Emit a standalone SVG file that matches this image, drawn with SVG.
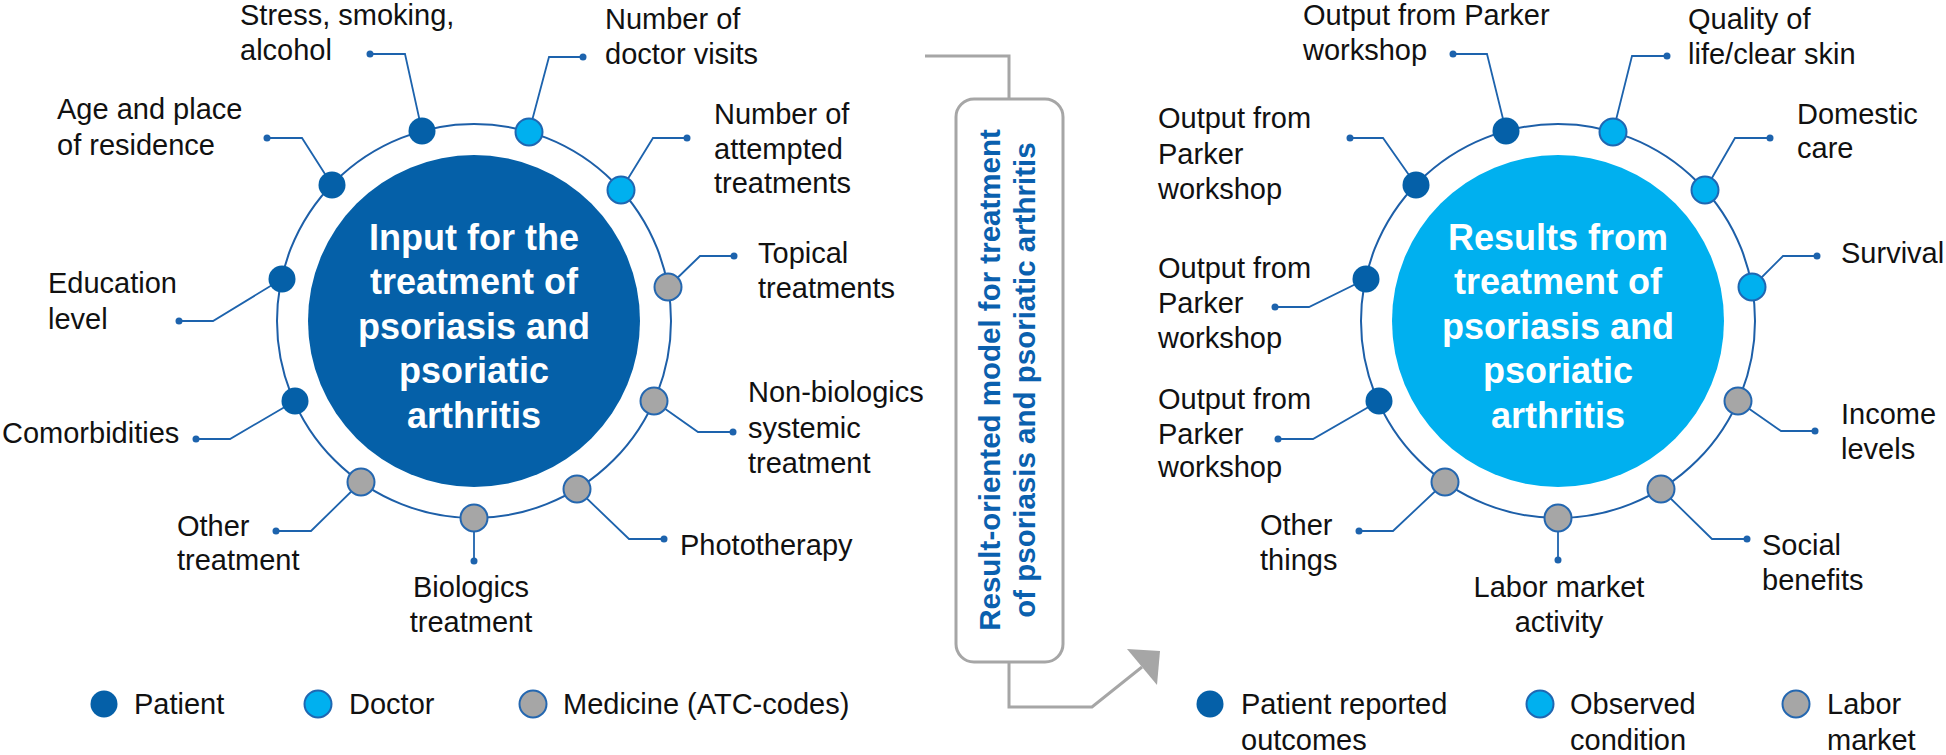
<svg xmlns="http://www.w3.org/2000/svg" width="1946" height="755" viewBox="0 0 1946 755">
<style>
.lbl{font-family:"Liberation Sans",Arial,sans-serif;font-size:29px;fill:#111}
.mid{text-anchor:middle}
.hub{font-family:"Liberation Sans",Arial,sans-serif;font-size:36px;font-weight:bold;fill:#fff;text-anchor:middle}
.boxt{font-family:"Liberation Sans",Arial,sans-serif;font-size:29.5px;font-weight:bold;fill:#0a60ae;text-anchor:middle}
.ring{fill:none;stroke:#1d5fa8;stroke-width:2}
.lead{fill:none;stroke:#1d63ad;stroke-width:1.8}
.dot{fill:#1d63ad}
.pat{fill:#0560a8}
.doc{fill:#00b0ef;stroke:#1f67b2;stroke-width:2}
.med{fill:#a6a6a6;stroke:#2467b0;stroke-width:2}
.gline{fill:none;stroke:#a6a6a6;stroke-width:3}
</style>
<rect width="1946" height="755" fill="#fff"/>

<!-- hubs -->
<g id="hub-input">
<circle class="ring" cx="474" cy="321" r="197"/>
<circle cx="474" cy="321" r="166" fill="#0560a8"/>
<text class="hub"><tspan x="474" y="250">Input for the</tspan><tspan x="474" y="294">treatment of</tspan><tspan x="474" y="339">psoriasis and</tspan><tspan x="474" y="383">psoriatic</tspan><tspan x="474" y="428">arthritis</tspan></text>
</g>
<g id="hub-results">
<circle class="ring" cx="1558" cy="321" r="197"/>
<circle cx="1558" cy="321" r="166" fill="#00b0ef"/>
<text class="hub"><tspan x="1558" y="250">Results from</tspan><tspan x="1558" y="294">treatment of</tspan><tspan x="1558" y="339">psoriasis and</tspan><tspan x="1558" y="383">psoriatic</tspan><tspan x="1558" y="428">arthritis</tspan></text>
</g>

<g id="model-box">
<rect x="956" y="99" width="107" height="563" rx="18" fill="#fff" stroke="#a6a6a6" stroke-width="3"/>
<text class="boxt" transform="translate(1000,380) rotate(-90)">Result-oriented model for treatment</text>
<text class="boxt" transform="translate(1035,380) rotate(-90)">of psoriasis and psoriatic arthritis</text>
</g>

<!-- connectors -->
<g id="connectors">
<path class="gline" d="M925,56 H1009 V99"/>
<path class="gline" d="M1009,662 V707 H1092 L1142,667"/>
<polygon points="1127,649 1160,651 1157,685" fill="#a6a6a6"/>
<!-- left leaders -->
<path class="lead" d="M422,131 L405,54 H370"/>
<path class="lead" d="M529,132 L549,57 H583"/>
<path class="lead" d="M621,190 L653,138 H687"/>
<path class="lead" d="M668,287 L700,256 H734"/>
<path class="lead" d="M654,401 L698,432 H733"/>
<path class="lead" d="M577,489 L629,539 H664"/>
<path class="lead" d="M474,518 V561"/>
<path class="lead" d="M361,482 L311,531 H276"/>
<path class="lead" d="M295,401 L230,439 H196"/>
<path class="lead" d="M282,279 L213,321 H179"/>
<path class="lead" d="M332,185 L302,138 H267"/>
<!-- right leaders -->
<path class="lead" d="M1506,131 L1487,54 H1453"/>
<path class="lead" d="M1613,132 L1632,56 H1667"/>
<path class="lead" d="M1705,190 L1735,138 H1770"/>
<path class="lead" d="M1752,287 L1783,256 H1817"/>
<path class="lead" d="M1738,401 L1781,431 H1815"/>
<path class="lead" d="M1661,489 L1712,539 H1747"/>
<path class="lead" d="M1558,518 V560"/>
<path class="lead" d="M1445,482 L1393,531 H1359"/>
<path class="lead" d="M1379,401 L1313,439 H1278"/>
<path class="lead" d="M1366,279 L1309,307 H1275"/>
<path class="lead" d="M1416,185 L1383,138 H1350"/>
<g class="dot">
<circle cx="370" cy="54" r="3.5"/><circle cx="583" cy="57" r="3.5"/><circle cx="687" cy="138" r="3.5"/><circle cx="734" cy="256" r="3.5"/><circle cx="733" cy="432" r="3.5"/><circle cx="664" cy="539" r="3.5"/><circle cx="474" cy="561" r="3.5"/><circle cx="276" cy="531" r="3.5"/><circle cx="196" cy="439" r="3.5"/><circle cx="179" cy="321" r="3.5"/><circle cx="267" cy="138" r="3.5"/>
<circle cx="1453" cy="54" r="3.5"/><circle cx="1667" cy="56" r="3.5"/><circle cx="1770" cy="138" r="3.5"/><circle cx="1817" cy="256" r="3.5"/><circle cx="1815" cy="431" r="3.5"/><circle cx="1747" cy="539" r="3.5"/><circle cx="1558" cy="560" r="3.5"/><circle cx="1359" cy="531" r="3.5"/><circle cx="1278" cy="439" r="3.5"/><circle cx="1275" cy="307" r="3.5"/><circle cx="1350" cy="138" r="3.5"/>
</g>
</g>

<!-- left nodes -->
<g id="n-stress"><circle class="pat" cx="422" cy="131" r="13.5"/><text class="lbl"><tspan x="240" y="25">Stress, smoking,</tspan><tspan x="240" y="60">alcohol</tspan></text></g>
<g id="n-doctor-visits"><circle class="doc" cx="529" cy="132" r="13.5"/><text class="lbl"><tspan x="605" y="29">Number of</tspan><tspan x="605" y="64">doctor visits</tspan></text></g>
<g id="n-attempted"><circle class="doc" cx="621" cy="190" r="13.5"/><text class="lbl"><tspan x="714" y="124">Number of</tspan><tspan x="714" y="159">attempted</tspan><tspan x="714" y="193">treatments</tspan></text></g>
<g id="n-topical"><circle class="med" cx="668" cy="287" r="13.5"/><text class="lbl"><tspan x="758" y="263">Topical</tspan><tspan x="758" y="298">treatments</tspan></text></g>
<g id="n-nonbio"><circle class="med" cx="654" cy="401" r="13.5"/><text class="lbl"><tspan x="748" y="402">Non-biologics</tspan><tspan x="748" y="438">systemic</tspan><tspan x="748" y="473">treatment</tspan></text></g>
<g id="n-photo"><circle class="med" cx="577" cy="489" r="13.5"/><text class="lbl" x="680" y="555">Phototherapy</text></g>
<g id="n-biologics"><circle class="med" cx="474" cy="518" r="13.5"/><text class="lbl mid"><tspan x="471" y="597">Biologics</tspan><tspan x="471" y="632">treatment</tspan></text></g>
<g id="n-other-treatment"><circle class="med" cx="361" cy="482" r="13.5"/><text class="lbl"><tspan x="177" y="536">Other</tspan><tspan x="177" y="570">treatment</tspan></text></g>
<g id="n-comorb"><circle class="pat" cx="295" cy="401" r="13.5"/><text class="lbl" x="2" y="443">Comorbidities</text></g>
<g id="n-education"><circle class="pat" cx="282" cy="279" r="13.5"/><text class="lbl"><tspan x="48" y="293">Education</tspan><tspan x="48" y="329">level</tspan></text></g>
<g id="n-age"><circle class="pat" cx="332" cy="185" r="13.5"/><text class="lbl"><tspan x="57" y="119">Age and place</tspan><tspan x="57" y="155">of residence</tspan></text></g>

<!-- right nodes -->
<g id="r-output1"><circle class="pat" cx="1506" cy="131" r="13.5"/><text class="lbl"><tspan x="1303" y="25">Output from Parker</tspan><tspan x="1303" y="60">workshop</tspan></text></g>
<g id="r-quality"><circle class="doc" cx="1613" cy="132" r="13.5"/><text class="lbl"><tspan x="1688" y="29">Quality of</tspan><tspan x="1688" y="64">life/clear skin</tspan></text></g>
<g id="r-domestic"><circle class="doc" cx="1705" cy="190" r="13.5"/><text class="lbl"><tspan x="1797" y="124">Domestic</tspan><tspan x="1797" y="158">care</tspan></text></g>
<g id="r-survival"><circle class="doc" cx="1752" cy="287" r="13.5"/><text class="lbl" x="1841" y="263">Survival</text></g>
<g id="r-income"><circle class="med" cx="1738" cy="401" r="13.5"/><text class="lbl"><tspan x="1841" y="424">Income</tspan><tspan x="1841" y="459">levels</tspan></text></g>
<g id="r-social"><circle class="med" cx="1661" cy="489" r="13.5"/><text class="lbl"><tspan x="1762" y="555">Social</tspan><tspan x="1762" y="590">benefits</tspan></text></g>
<g id="r-labor"><circle class="med" cx="1558" cy="518" r="13.5"/><text class="lbl mid"><tspan x="1559" y="597">Labor market</tspan><tspan x="1559" y="632">activity</tspan></text></g>
<g id="r-other"><circle class="med" cx="1445" cy="482" r="13.5"/><text class="lbl"><tspan x="1260" y="535">Other</tspan><tspan x="1260" y="570">things</tspan></text></g>
<g id="r-output4"><circle class="pat" cx="1379" cy="401" r="13.5"/><text class="lbl"><tspan x="1158" y="409">Output from</tspan><tspan x="1158" y="444">Parker</tspan><tspan x="1158" y="477">workshop</tspan></text></g>
<g id="r-output3"><circle class="pat" cx="1366" cy="279" r="13.5"/><text class="lbl"><tspan x="1158" y="278">Output from</tspan><tspan x="1158" y="313">Parker</tspan><tspan x="1158" y="348">workshop</tspan></text></g>
<g id="r-output2"><circle class="pat" cx="1416" cy="185" r="13.5"/><text class="lbl"><tspan x="1158" y="128">Output from</tspan><tspan x="1158" y="164">Parker</tspan><tspan x="1158" y="199">workshop</tspan></text></g>

<!-- legends -->
<g id="legend-left">
<circle class="pat" cx="104" cy="704" r="13.5"/><text class="lbl" x="134" y="714">Patient</text>
<circle class="doc" cx="318" cy="704" r="13.5"/><text class="lbl" x="349" y="714">Doctor</text>
<circle class="med" cx="533" cy="704" r="13.5"/><text class="lbl" x="563" y="714">Medicine (ATC-codes)</text>
</g>
<g id="legend-right">
<circle class="pat" cx="1210" cy="704" r="13.5"/><text class="lbl"><tspan x="1241" y="714">Patient reported</tspan><tspan x="1241" y="750">outcomes</tspan></text>
<circle class="doc" cx="1540" cy="704" r="13.5"/><text class="lbl"><tspan x="1570" y="714">Observed</tspan><tspan x="1570" y="750">condition</tspan></text>
<circle class="med" cx="1796" cy="704" r="13.5"/><text class="lbl"><tspan x="1827" y="714">Labor</tspan><tspan x="1827" y="750">market</tspan></text>
</g>
</svg>
